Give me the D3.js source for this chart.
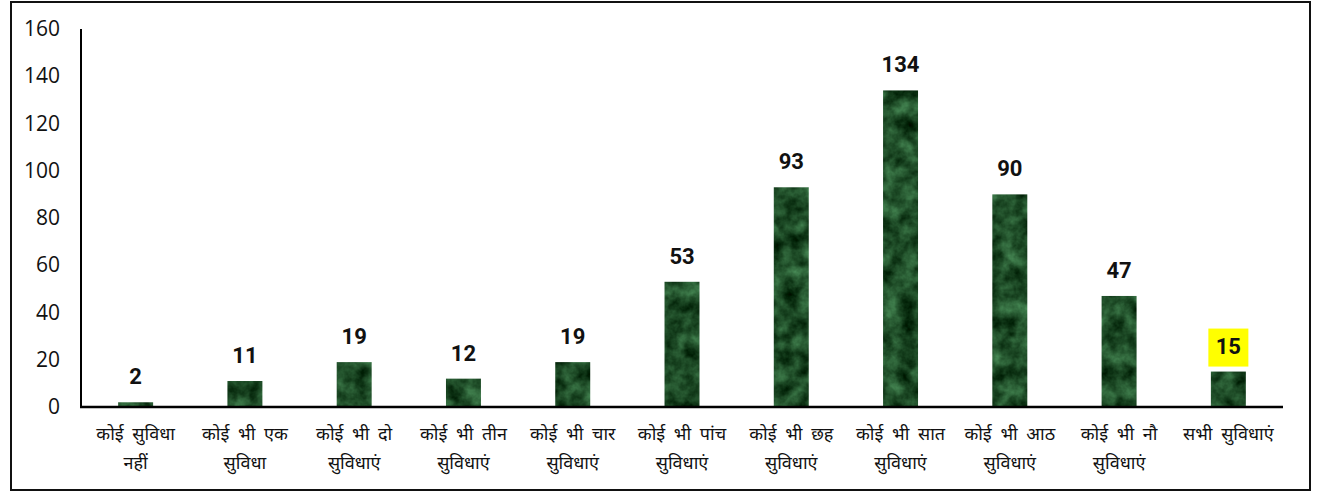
<!DOCTYPE html>
<html>
<head>
<meta charset="utf-8">
<script src="https://cdn.jsdelivr.net/npm/d3@7"></script>
<style>
  body { margin: 0; background: #fff; }
  svg { display: block; }
  .tick text { font-family: "Open Sans", "Noto Sans", sans-serif; }
</style>
</head>
<body>
<svg id="chart" width="1317" height="494"></svg>
<script>
const categories = [
  ["कोई सुविधा", "नहीं"],
  ["कोई भी एक", "सुविधा"],
  ["कोई भी दो", "सुविधाएं"],
  ["कोई भी तीन", "सुविधाएं"],
  ["कोई भी चार", "सुविधाएं"],
  ["कोई भी पांच", "सुविधाएं"],
  ["कोई भी छह", "सुविधाएं"],
  ["कोई भी सात", "सुविधाएं"],
  ["कोई भी आठ", "सुविधाएं"],
  ["कोई भी नौ", "सुविधाएं"],
  ["सभी सुविधाएं"]
]
const values = [2, 11, 19, 12, 19, 53, 93, 134, 90, 47, 15]
const yTicks = [0, 20, 40, 60, 80, 100, 120, 140, 160]
const highlight = 10

const svg = d3.select("#chart")
const plotLeft = 81
const plotRight = 1283
const plotTop = 29
const plotBottom = 407

// outer frame
svg.append("rect")
  .attr("x", 11).attr("y", 2)
  .attr("width", 1299).attr("height", 488)
  .attr("fill", "none")
  .attr("stroke", "#111")
  .attr("stroke-width", 2)

// marble-ish green texture
const defs = svg.append("defs")
const filter = defs.append("filter")
  .attr("id", "marble")
  .attr("color-interpolation-filters", "sRGB")
  .attr("x", 0).attr("y", 0).attr("width", 1).attr("height", 1)
filter.append("feTurbulence")
  .attr("type", "fractalNoise")
  .attr("baseFrequency", "0.06")
  .attr("numOctaves", 4)
  .attr("seed", 5)
  .attr("result", "noise")
filter.append("feColorMatrix")
  .attr("in", "noise")
  .attr("type", "matrix")
  .attr("values", "0.4 0 0 0 -0.08  0.6 0 0 0 0.0  0.45 0 0 0 -0.07  0 0 0 0 1")
  .attr("result", "col")
filter.append("feComposite")
  .attr("in", "col")
  .attr("in2", "SourceGraphic")
  .attr("operator", "in")

const x = d3.scaleBand()
  .domain(d3.range(categories.length))
  .range([plotLeft, plotRight])
  .paddingInner(0.68)
  .paddingOuter(0.34)

const y = d3.scaleLinear()
  .domain([0, 160])
  .range([plotBottom, plotTop])

// y axis labels (no tick marks)
const yAxis = svg.append("g")
  .attr("transform", `translate(${plotLeft},0)`)
  .call(d3.axisLeft(y).tickValues(yTicks).tickSize(0).tickPadding(21))
yAxis.select(".domain").remove()
yAxis.selectAll("text")
  .attr("font-size", 21)
  .attr("fill", "#111")

svg.append("line")
  .attr("x1", plotLeft).attr("x2", plotLeft)
  .attr("y1", plotTop).attr("y2", plotBottom)
  .attr("stroke", "#000").attr("stroke-width", 2)

// bars
svg.selectAll(".bar")
  .data(values)
  .enter()
  .append("rect")
  .attr("class", "bar")
  .attr("x", (d, i) => x(i))
  .attr("y", d => y(d))
  .attr("width", x.bandwidth())
  .attr("height", d => plotBottom - y(d))
  .attr("fill", "#1d5a2e")
  .attr("filter", "url(#marble)")

svg.append("line")
  .attr("x1", plotLeft - 1).attr("x2", plotRight)
  .attr("y1", plotBottom).attr("y2", plotBottom)
  .attr("stroke", "#000").attr("stroke-width", 2.5)

// value labels
const labels = svg.selectAll(".val")
  .data(values)
  .enter()
  .append("g")
  .attr("class", "val")
  .attr("transform", (d, i) => `translate(${x(i) + x.bandwidth() / 2},${y(d) - 18})`)

labels.filter((d, i) => i === highlight)
  .append("rect")
  .attr("x", -20).attr("y", -25)
  .attr("width", 40).attr("height", 38)
  .attr("fill", "#ffff00")

labels.append("text")
  .attr("text-anchor", "middle")
  .attr("font-family", "Roboto, 'Liberation Sans', sans-serif")
  .attr("font-weight", "bold")
  .attr("font-size", 22)
  .attr("fill", "#111")
  .text(d => d)

// category labels
const cat = svg.selectAll(".cat")
  .data(categories)
  .enter()
  .append("text")
  .attr("class", "cat")
  .attr("text-anchor", "middle")
  .attr("font-family", "'Noto Sans', 'Noto Sans Devanagari', sans-serif")
  .attr("font-size", 18)
  .attr("word-spacing", 4)
  .attr("fill", "#111")
  .attr("x", (d, i) => x(i) + x.bandwidth() / 2)
  .attr("y", 440)

cat.selectAll("tspan")
  .data(d => d)
  .enter()
  .append("tspan")
  .attr("x", function () { return d3.select(this.parentNode).attr("x") })
  .attr("dy", (d, i) => i === 0 ? 0 : 29)
  .text(d => d)
</script>
</body>
</html>
